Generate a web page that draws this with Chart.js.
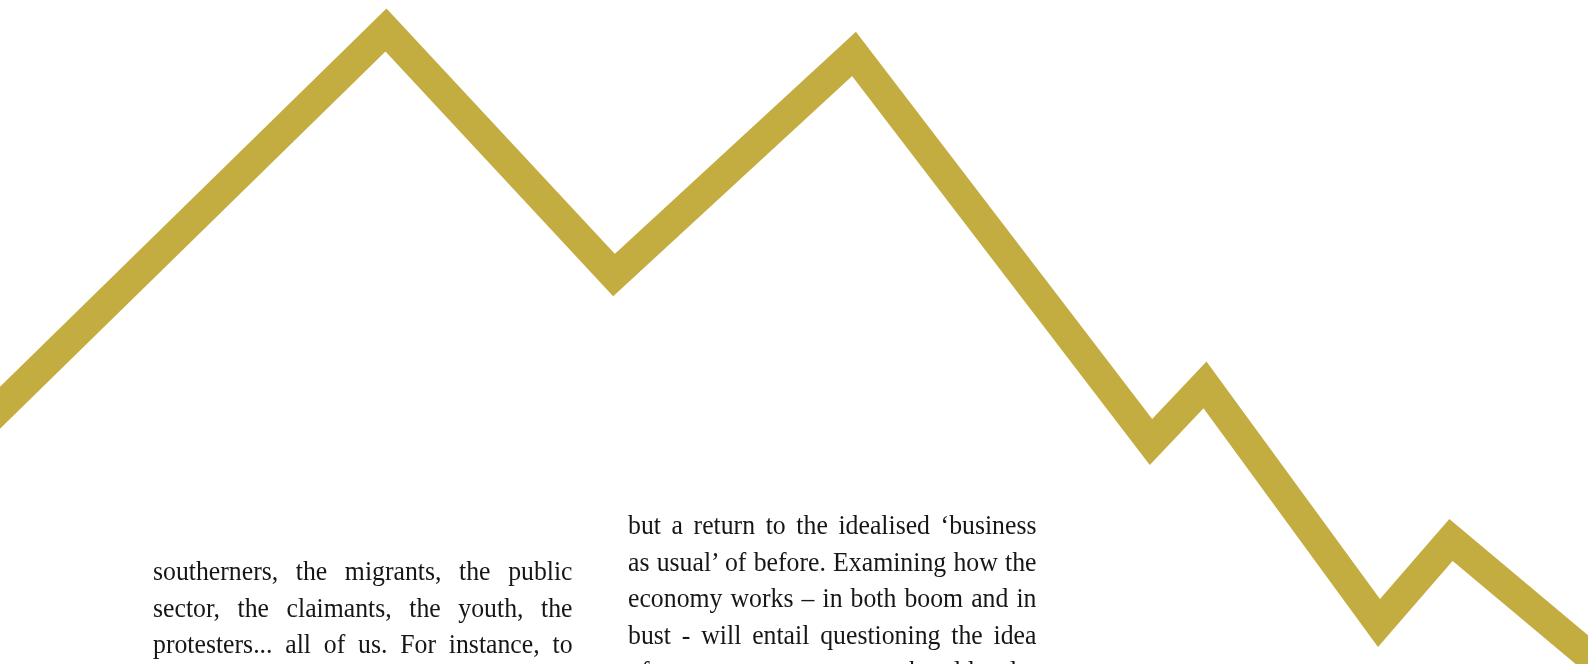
<!DOCTYPE html>
<html>
<head>
<meta charset="utf-8">
<title>zigzag</title>
<script src="https://cdn.jsdelivr.net/npm/chart.js@4"></script>
<style>
	html, body { margin: 0; padding: 0; background: #fff; overflow: hidden; }
	#wrap { position: relative; width: 1588px; height: 664px; overflow: hidden; }
	#chartBox { position: absolute; left: 0; top: 0; width: 1588px; height: 664px; }
	.col { position: absolute; font-family: "Liberation Serif", "DejaVu Serif", serif; font-size: 28px; line-height: 36.5px; color: #161616; }
	/* the original face is a little narrower than Times, so squeeze each line slightly */
	.col div { text-align: justify; text-align-last: justify; white-space: nowrap; transform: scaleX(0.92); transform-origin: 0 0; }
	#col1 { left: 153px; top: 553px; }
	#col1 div { width: 456px; }
	#col2 { left: 628px; top: 507px; }
	#col2 div { width: 444px; }
</style>
</head>
<body>
<div id="wrap">
	<div id="chartBox"><canvas id="myChart"></canvas></div>
	<div class="col" id="col1"></div>
	<div class="col" id="col2"></div>
</div>
<script>
// line points (x across the page, value up from the bottom)
let pointX = [-40, 386, 614, 854, 1151, 1205, 1379, 1451, 1630];
let pointY = [217, 634, 389, 610, 222, 279, 41, 124, -26];

let leftLines = [
	"southerners, the migrants, the public",
	"sector, the claimants, the youth, the",
	"protesters... all of us. For instance, to"
];
let rightLines = [
	"but a return to the idealised \u2018business",
	"as usual\u2019 of before. Examining how the",
	"economy works \u2013 in both boom and in",
	"bust - will entail questioning the idea",
	"of recovery as a return to the old order"
];

function fillColumn(id, lines) {
	let el = document.getElementById(id);
	lines.forEach((t) => {
		let d = document.createElement("div");
		d.textContent = t;
		el.appendChild(d);
	});
}

fillColumn("col1", leftLines);
fillColumn("col2", rightLines);

let myChart = 0;
function createChart() {
	var ctx = document.getElementById('myChart');
	let pts = pointX.map((x, i) => ({x: x, y: pointY[i]}));
	myChart = new Chart(ctx, {
		type: 'line',
		data: {
			datasets: [{
				label: 'line',
				data: pts,
				borderColor: '#c3ad41',
				borderWidth: 30,
				borderJoinStyle: 'miter',
				borderCapStyle: 'butt',
				pointRadius: 0,
				tension: 0,
				fill: false,
				clip: false
			}]
		},
		options: {
			responsive: true,
			maintainAspectRatio: false,
			animation: false,
			events: [],
			layout: { padding: 0 },
			plugins: { legend: { display: false }, tooltip: { enabled: false } },
			scales: {
				x: { type: 'linear', min: 0, max: 1588, display: false },
				y: { type: 'linear', min: 0, max: 664, display: false }
			}
		}
	});
}

createChart();
</script>
</body>
</html>
